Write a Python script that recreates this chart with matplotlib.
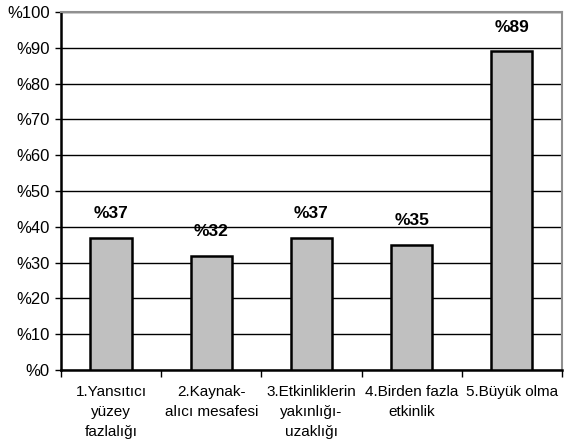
import matplotlib
matplotlib.use("Agg")
import matplotlib.pyplot as plt
from matplotlib.ticker import FixedLocator

categories = ["1.Yansıtıcı\nyüzey\nfazlalığı", "2.Kaynak-\nalıcı mesafesi",
              "3.Etkinliklerin\nyakınlığı-\nuzaklığı", "4.Birden fazla\netkinlik",
              "5.Büyük olma"]
values = [37, 32, 37, 35, 89]
yticks = [0, 10, 20, 30, 40, 50, 60, 70, 80, 90, 100]
ytick_labels = ["%" + str(v) for v in yticks]
value_labels = ["%" + str(v) for v in values]

plt.rcParams['font.family'] = ['Liberation Sans', 'DejaVu Sans']

fig = plt.figure(figsize=(5.64, 4.48), dpi=100)
ax = fig.add_axes([0.108, 0.174, 0.8885, 0.799])

x = list(range(len(values)))
ax.bar(x, values, width=0.41, color="#C0C0C0", edgecolor="black", linewidth=1.8, zorder=3)
for xi, v, lab in zip(x, values, value_labels):
    ax.annotate(lab, (xi, v), xytext=(0, 12), textcoords="offset points",
                ha="center", va="bottom", fontsize=12.5, fontweight="bold")

ax.set_xlim(-0.5, len(values) - 0.5)
ax.set_ylim(0, 100)
ax.set_yticks(yticks)
ax.set_yticklabels(ytick_labels, fontsize=12)
ax.set_xticks(x)
ax.set_xticklabels(categories, fontsize=11, linespacing=1.55)
ax.xaxis.set_minor_locator(FixedLocator([i - 0.5 for i in range(len(values) + 1)]))
ax.tick_params(axis="x", which="major", length=0, pad=11)
ax.tick_params(axis="x", which="minor", length=5, width=1, direction="out")
ax.tick_params(axis="y", length=4, width=1, direction="out", pad=4)
ax.yaxis.grid(True, color="black", linewidth=1, zorder=0)
ax.set_axisbelow(True)
ax.spines["left"].set_linewidth(1.8)
ax.spines["bottom"].set_linewidth(1.8)
ax.spines["top"].set_color("#909090")
ax.spines["top"].set_linewidth(1.5)
ax.spines["right"].set_color("#909090")
ax.spines["right"].set_linewidth(1.5)

fig.savefig("out.png", dpi=100)
